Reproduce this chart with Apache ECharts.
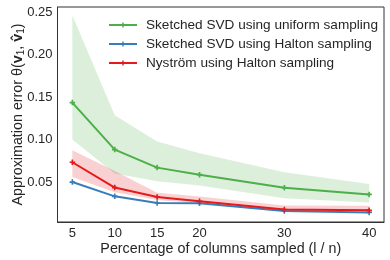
<!DOCTYPE html>
<html>
<head>
<meta charset="utf-8">
<script src="https://cdn.jsdelivr.net/npm/echarts@6/dist/echarts.min.js"></script>
<style>html,body{margin:0;padding:0;background:#fff}#c{width:390px;height:260px}</style>
</head>
<body>
<div id="c"></div>
<script>
var xValues = [5, 10, 15, 20, 30, 40];
var xTicks = [5, 10, 15, 20, 30, 40];
var yTicks = [0.05, 0.10, 0.15, 0.20, 0.25];
var uniformMean = [0.1435, 0.0882, 0.0670, 0.0587, 0.0434, 0.0355];
var uniformLow  = [0.100, 0.060, 0.051, 0.046, 0.031, 0.026];
var uniformHigh = [0.246, 0.1286, 0.0978, 0.084, 0.0615, 0.0478];
var haltonMean  = [0.0500, 0.0332, 0.0253, 0.0250, 0.0160, 0.0143];
var nystromMean = [0.0733, 0.0435, 0.0325, 0.0273, 0.0177, 0.0167];
var nystromLow  = [0.056, 0.038, 0.029, 0.025, 0.016, 0.015];
var nystromHigh = [0.0875, 0.063, 0.0375, 0.033, 0.0225, 0.022];
var names = ['Sketched SVD using uniform sampling', 'Sketched SVD using Halton sampling', 'Nyström using Halton sampling'];
var colors = ['#4daf4a', '#377eb8', '#e41a1c'];

function pairs(ys) { return xValues.map(function (x, i) { return [x, ys[i]]; }); }
function band(lo, hi, color) {
  return {
    type: 'custom', silent: true, z: 1,
    data: xValues.map(function (x, i) { return [x, lo[i], hi[i]]; }),
    renderItem: function (params, api) {
      if (params.dataIndex !== 0) return null;
      var pts = [];
      for (var i = 0; i < xValues.length; i++) pts.push(api.coord([xValues[i], hi[i]]));
      for (var j = xValues.length - 1; j >= 0; j--) pts.push(api.coord([xValues[j], lo[j]]));
      return { type: 'polygon', shape: { points: pts }, style: { fill: color, opacity: 0.2 } };
    }
  };
}
var plusPath = 'path://M3.5,0 L6.5,0 L6.5,3.5 L10,3.5 L10,6.5 L6.5,6.5 L6.5,10 L3.5,10 L3.5,6.5 L0,6.5 L0,3.5 L3.5,3.5 Z';
function line(name, ys, color) {
  return {
    name: name, type: 'line', data: pairs(ys), z: 3,
    symbol: plusPath, symbolSize: 5.5,
    itemStyle: { color: color },
    lineStyle: { color: color, width: 2 },
    emphasis: { disabled: true }, animation: false
  };
}
var chart = echarts.init(document.getElementById('c'), null, { renderer: 'canvas' });
var txt = '#262626';
chart.setOption({
  animation: false,
  textStyle: { fontFamily: 'Liberation Sans, Arial, sans-serif' },
  grid: { left: 57.5, right: 6, top: 7, bottom: 38, outerBoundsMode: 'none', containLabel: false,
          show: true, borderColor: '#333', borderWidth: 1, backgroundColor: 'transparent' },
  legend: {
    orient: 'vertical', left: 108, top: 18, padding: 0, itemWidth: 28, itemHeight: 6, itemGap: 5,
    textStyle: { fontSize: 13.6, color: txt, lineHeight: 14, padding: [0, 0, 0, 4] },
    data: names
  },
  xAxis: {
    type: 'value', min: 3.25, max: 41.75,
    name: 'Percentage of columns sampled (l / n)', nameLocation: 'middle', nameGap: 20, nameMoveOverlap: false,
    nameTextStyle: { fontSize: 14.3, color: txt },
    axisLine: { show: true, lineStyle: { color: '#333' } },
    axisTick: { show: false, customValues: xTicks },
    splitLine: { show: false },
    axisLabel: { customValues: xTicks, fontSize: 13, color: txt, margin: 5 }
  },
  yAxis: {
    type: 'value', min: 0.003, max: 0.256,
    name: '{n|Approximation error θ(}{b|v}{s|1}{n|, }{b|v̂}{s|1}{n|)}', nameLocation: 'middle', nameGap: 31, nameMoveOverlap: false,
    nameTextStyle: {
      fontSize: 14.3, color: txt,
      rich: {
        n: { fontSize: 14.3, color: txt },
        b: { fontSize: 14.3, color: txt, fontWeight: 'bold' },
        s: { fontSize: 10, color: txt, verticalAlign: 'bottom', padding: [6, 0, 0, 0] }
      }
    },
    axisLine: { show: true, lineStyle: { color: '#333' } },
    axisTick: { show: false, customValues: yTicks },
    splitLine: { show: false },
    axisLabel: { customValues: yTicks, fontSize: 13, color: txt, margin: 5, formatter: function (v) { return v.toFixed(2); } }
  },
  series: [
    band(uniformLow, uniformHigh, colors[0]),
    band(nystromLow, nystromHigh, colors[2]),
    line(names[0], uniformMean, colors[0]),
    line(names[1], haltonMean, colors[1]),
    line(names[2], nystromMean, colors[2])
  ]
});
</script>
</body>
</html>
